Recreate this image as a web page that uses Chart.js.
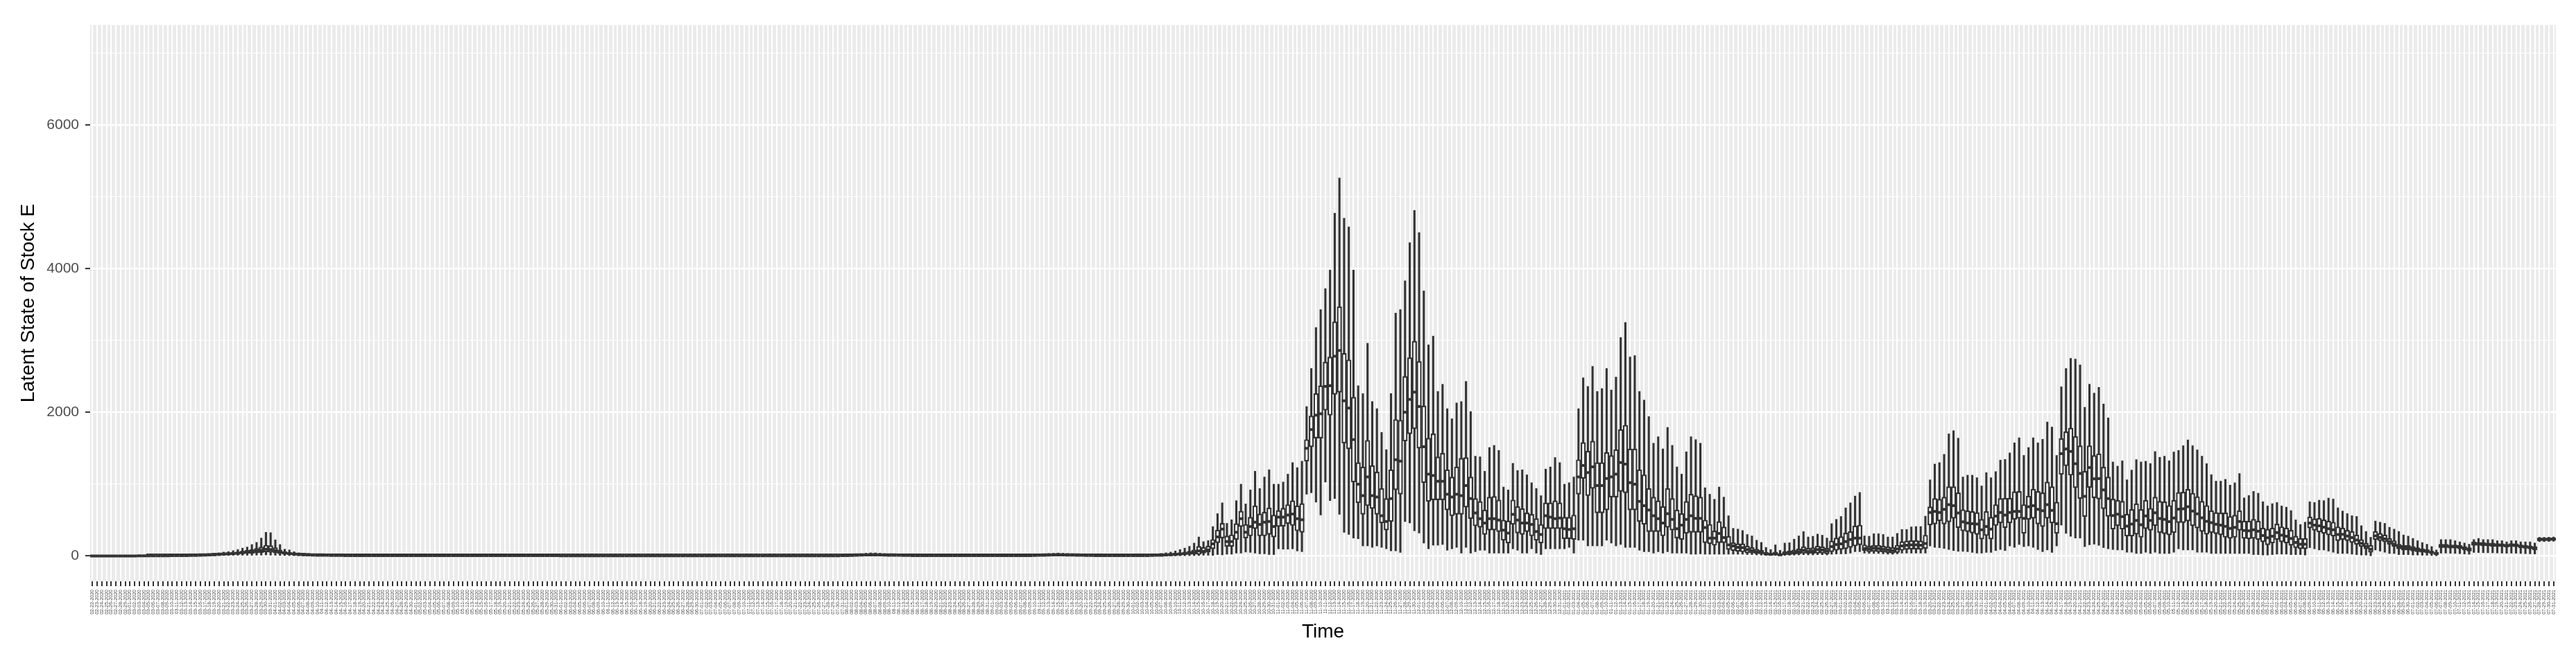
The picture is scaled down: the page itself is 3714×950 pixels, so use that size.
<!DOCTYPE html>
<html>
<head>
<meta charset="utf-8">
<script src="https://cdn.jsdelivr.net/npm/chart.js@4.4.1/dist/chart.umd.min.js"></script>
<style>
html,body{margin:0;padding:0;background:#ffffff;}
canvas{display:block;}
</style>
</head>
<body>
<canvas id="c" width="3714" height="950"></canvas>
<script>
// ---- categories: one per day, 02-22-2020 ... 07-31-2021 ----
const firstDayUTC = Date.UTC(2020, 1, 22);
const dayCount = 526;
const timeLabels = [];
for (let k = 0; k < dayCount; k++) {
  const d = new Date(firstDayUTC + k * 86400000);
  const mm = String(d.getUTCMonth() + 1).padStart(2, '0');
  const dd = String(d.getUTCDate()).padStart(2, '0');
  timeLabels.push(mm + '-' + dd + '-' + d.getUTCFullYear());
}

// ---- y axis ----
const yMin = -352;
const yMax = 7390;
const yTickValues = [0, 1000, 2000, 3000, 4000, 5000, 6000, 7000];
const yTickLabels = ['0', '', '2000', '', '4000', '', '6000', ''];

// ---- boxplot statistics (lower whisker, Q1, median, Q3, upper whisker) ----
const whiskerLow = [
0,0,0,0,0,0,0,0,0,0,0,0,0,0,0,0,0,0,0,0,0,0,0,0,
3,4,5,6,7,8,9,10,10,10,10,12,12,15,12,10,8,6,5,4,3,3,2,2,2,
1,1,1,1,1,1,0,
0,0,0,0,0,0,0,0,0,0, 0,0,0,0,0,0,0,0,0,0, 0,0,0,0,0,0,0,0,0,0, 0,0,0,0,0,0,0,0,0,0, 0,0,0,0,
0,0,0,0,0,0,0,0,0,0, 0,0,0,0,0,0,0,0,0,0, 0,0,0,0,0,0,0,0,0,0, 0,0,0,0,0,0,0,0,0,0, 0,0,0,0,0,0,0,0,0,0, 0,0,0,0,0,0,0,0,0,0,
0,0,1,1,1,1,2,2,1,1,1,1,1,1,1,0,0,0,0,0,0,
0,0,0,0,0,0,0,0,0,0,0,0,0,0,0,0,0,0,0,
0,0,1,1,1,1,2,1,1,1,1,1,1,0,0,0,
0,0,0,0,0,0,0,0,0,
0,0,1,1,1,2,2,3,3,4,5,
6,10,10,8,20,15,25,25,40,40,55,50,40,30,30,20,20,100,95,95,100,70,60,
860,880,750,570,1030,770,800,580,330,300,
250,240,140,140,120,140,120,100,70,70,
50,480,460,350,320,180,100,150,150,160,
80,100,120,40,120,40,60,80,80,40,
40,40,40,40,100,80,40,40,100,40,
20,100,100,100,100,100,120,40,220,220,
140,140,140,140,220,180,140,160,120,120,
120,80,60,60,40,60,40,
60,40,40,40,40,25,25,30,25,25,
25,25,25,25,25,25,25,20,20,15,
12,8,6,8,5,8,10,12,15,18,
15,15,18,18,15,25,28,30,30,40,
60,60,40,35,35,35,30,25,25,30,
40,40,40,40,40,40,140,120,115,105,
90,75,65,65,60,50,40,40,50,50,
75,90,75,140,120,160,130,140,120,90,
60,85,50,140,430,315,275,250,
250,130,155,165,148,116,100,90,84,84,
52,52,35,35,52,35,52,35,35,35,
52,100,84,84,84,52,52,52,35,35,
35,35,35,35,35,35,35,19,19,13,
13,19,26,26,26,19,19,19,13,116,
100,84,84,68,52,35,35,35,26,19,
13,13,3,84,68,52,35,35,19,19,
19,13,13,10,10,6,3,40,40,38,
36,32,28,24,50,48,46,45,44,42,
40,38,40,38,35,32,30,28,200,200,
202,205
];

const boxQ1 = [
0,0,0,0,0,0,0,0,0,0,0,0,1,1,1,1,2,2,2,3,3,4,5,6,
8,10,12,14,17,20,22,26,30,34,38,42,48,55,52,42,32,25,20,16,13,11,9,8,7,
6,5,5,4,4,3,3,
2,2,2,2,2,2,2,2,2,2, 2,2,2,2,2,2,2,2,2,2, 2,2,2,2,2,2,2,2,2,2, 2,2,2,2,2,2,2,2,2,2, 2,2,2,2,
1,1,1,1,1,1,1,1,1,1, 1,1,1,1,1,1,1,1,1,1, 1,1,1,1,1,1,1,1,1,1, 1,1,1,1,1,1,1,1,1,1, 1,1,1,1,1,1,1,1,1,1, 1,1,1,1,1,1,1,1,1,1,
3,4,5,6,7,8,9,9,8,7,7,6,5,5,4,4,4,3,3,2,2,
2,2,2,2,2,2,2,2,2,2,2,2,2,2,2,2,2,2,2,
4,4,5,7,8,8,9,8,8,7,6,5,5,4,4,4,
3,3,3,3,3,3,3,4,4,
3,4,5,6,8,10,12,15,18,22,25,
22,40,55,100,185,250,135,135,230,410,250,280,380,280,280,300,265,410,415,450,425,350,330,
1320,1520,1640,1640,2030,1960,2250,2280,1570,1490,
1030,740,580,700,660,580,460,360,480,920,
860,1600,1700,1770,1500,1020,760,780,780,780,
640,560,580,580,680,520,420,400,300,360,
360,340,220,180,440,320,300,340,280,220,
180,380,380,380,380,240,240,230,860,1080,
840,940,600,600,640,820,820,900,880,640,
640,480,440,340,340,340,280,
400,360,250,230,315,330,330,330,185,170,
150,185,185,90,75,65,58,42,42,32,
30,15,12,15,8,15,20,25,30,40,
35,35,40,40,30,60,80,90,100,120,
140,155,75,60,65,60,55,45,40,50,
80,90,95,95,90,105,430,445,490,445,
475,525,395,350,340,320,300,235,285,235,
425,460,395,460,510,525,315,510,525,445,
410,525,460,315,1135,1255,1125,950,
800,550,955,809,793,658,551,374,422,374,
277,277,303,261,380,358,422,326,310,293,
326,464,464,487,422,390,342,303,326,310,
293,261,245,261,358,245,239,245,229,197,
155,181,229,197,181,148,116,100,100,390,
358,335,316,293,277,213,229,213,187,164,
132,100,52,229,213,197,164,132,100,84,
84,68,58,52,45,35,19,116,116,110,
110,100,84,68,148,148,142,142,135,132,
132,123,132,129,116,110,100,84,213,213,
213,216
];

const boxMedian = [
1,1,1,1,1,1,1,1,1,1,2,2,2,2,3,3,3,4,4,5,6,7,8,10,
12,15,18,22,26,30,35,40,48,55,62,70,80,95,90,72,55,42,34,27,22,18,15,13,11,
10,9,8,7,7,6,5,
5,5,5,4,4,4,4,4,4,4, 4,4,4,4,4,4,4,4,4,4, 4,4,4,4,4,4,4,4,4,4, 4,4,4,4,4,4,4,4,4,4, 4,4,4,4,
3,3,3,3,3,3,3,3,3,3, 3,3,3,3,3,3,3,3,3,3, 3,3,3,3,3,3,3,3,3,3, 3,3,3,3,3,3,3,3,3,3, 3,3,3,3,3,3,3,3,3,3, 3,3,3,3,3,3,3,3,3,3,
5,6,8,10,12,14,15,15,14,12,11,10,9,8,7,6,6,5,5,4,4,
4,4,4,4,4,4,4,4,4,4,4,4,4,4,4,4,4,4,4,
6,7,9,11,13,14,15,14,13,12,10,9,8,7,6,6,
5,5,5,5,5,5,5,6,6,
6,7,9,11,14,18,22,28,34,42,50,
70,65,85,170,265,375,200,200,330,520,330,410,470,440,470,480,410,540,540,570,585,520,505,
1500,1760,1960,1980,2360,2370,2780,2860,2160,2060,
1620,1000,840,1100,840,820,560,480,800,1340,
1320,2000,2180,2280,2080,1520,1140,1120,1040,1040,
860,820,860,840,980,800,600,520,460,520,
520,500,360,320,580,500,460,460,440,340,
300,560,540,520,530,380,370,380,1100,1260,
1160,1240,980,980,1080,1100,1140,1300,1280,1020,
1000,760,700,640,560,520,460,
590,510,380,430,510,560,525,525,395,250,
250,315,255,155,140,120,115,90,74,58,
50,30,25,30,18,35,40,50,60,80,
65,70,90,85,70,130,160,170,200,230,
250,250,105,100,110,105,95,85,75,100,
140,150,155,155,150,175,605,620,605,650,
715,700,600,475,460,450,445,365,410,375,
555,605,570,605,620,620,525,685,700,650,
630,715,635,450,1425,1490,1455,1285,
1150,830,1230,1075,1076,919,798,563,582,548,
415,444,495,435,559,496,601,522,510,477,
529,653,656,686,625,586,531,483,464,443,
431,414,383,399,481,354,351,364,345,284,
254,275,326,291,275,243,188,165,165,460,
430,421,400,380,364,300,301,278,257,222,
176,136,95,280,259,240,200,168,129,113,
113,97,84,74,65,50,34,138,138,130,
130,122,106,90,170,167,164,160,156,151,
150,141,151,148,134,127,119,106,232,232,
235,238
];

const boxQ3 = [
2,2,2,2,2,2,2,2,2,3,3,3,4,4,5,5,6,6,7,8,9,10,12,14,
16,20,25,30,36,42,50,58,68,80,92,105,125,150,145,115,85,62,50,40,32,27,22,19,16,
14,13,12,11,10,9,8,
8,7,7,7,7,6,6,6,6,6, 6,6,6,6,6,6,6,6,6,6, 6,6,6,6,6,6,6,6,6,6, 6,6,6,6,6,6,6,6,6,6, 6,6,6,6,
5,5,5,5,5,5,5,5,5,5, 5,5,5,5,5,5,5,5,5,5, 5,5,5,5,5,5,5,5,5,5, 5,5,5,5,5,5,5,5,5,5, 5,5,5,5,5,5,5,5,5,5, 5,5,5,5,5,5,5,5,5,5,
8,9,12,15,18,21,23,23,21,18,17,15,14,12,11,9,9,8,8,6,6,
6,6,6,6,6,6,6,6,6,6,6,6,6,6,6,6,6,6,6,
9,11,14,17,20,21,23,21,20,18,15,14,12,11,9,9,
8,8,8,8,8,8,8,9,9,
10,12,15,18,22,28,35,45,55,68,85,
135,120,140,230,360,455,280,295,450,625,440,540,700,585,610,670,570,635,665,715,770,700,730,
1620,1950,2260,2370,2700,2770,3260,3470,2820,2730,
2210,1300,1240,1610,1260,1170,940,800,1200,1900,
1890,2500,2760,2990,2710,2090,1640,1700,1380,1430,
1200,1100,1240,1360,1370,1100,800,760,640,820,
830,780,500,490,780,690,660,600,580,520,
440,740,740,770,740,540,540,570,1340,1580,
1460,1600,1300,1300,1440,1400,1480,1760,1820,1490,
1490,1200,1130,940,820,770,690,
940,800,640,590,760,860,840,820,500,440,
350,480,405,275,185,170,170,140,120,96,
80,50,40,55,35,60,70,85,100,130,
110,115,140,130,110,210,250,270,320,340,
420,430,155,140,150,150,140,130,120,150,
200,210,215,215,210,290,685,800,790,820,
965,965,880,645,630,620,605,510,620,540,
715,800,805,805,895,900,715,835,930,900,
880,1030,965,750,1635,1730,1780,1665,
1535,1180,1535,1400,1422,1238,1100,793,777,761,
584,648,729,648,777,664,819,761,755,703,
777,884,890,929,874,826,761,703,632,606,
600,600,551,568,632,487,487,510,487,390,
374,390,445,406,390,358,277,245,245,545,
519,526,503,487,471,406,390,358,342,293,
229,181,148,342,316,293,245,213,164,148,
148,132,116,100,90,68,52,164,164,155,
155,148,132,116,197,190,190,181,181,174,
171,164,174,171,155,148,142,132,250,250,
250,252
];

const whiskerHigh = [
4,4,4,4,4,4,4,4,5,5,6,6,7,8,9,10,11,12,13,15,17,19,21,23,
25,30,38,45,55,62,75,90,110,125,160,190,250,330,325,225,160,95,85,60,45,40,34,28,24,
21,19,17,15,14,13,12,
11,11,11,10,10,10,10,10,10,10, 10,10,10,10,10,10,10,10,10,10, 10,10,10,10,10,10,10,10,10,10, 10,10,10,10,10,10,10,10,10,10, 10,10,10,10,
9,9,8,8,8,8,8,8,8,8, 8,8,8,8,8,8,8,8,8,8, 8,8,8,8,8,8,8,8,8,8, 8,8,8,8,8,8,8,8,8,8, 8,8,8,8,8,8,8,8,8,8, 8,8,8,8,8,8,8,8,8,8,
14,16,22,28,34,40,44,44,40,34,31,28,25,22,19,16,15,13,13,10,10,
10,10,10,10,10,10,10,10,10,10,10,10,10,10,10,10,10,10,10,
16,19,25,30,36,40,42,40,36,33,28,25,22,19,16,16,
13,13,13,13,13,13,14,15,16,
18,22,28,35,45,55,70,90,110,135,180,
265,200,215,410,590,740,455,505,770,1000,725,920,1180,940,1100,1200,1000,1000,1030,1140,1300,1230,1320,
2080,2610,3180,3430,3720,3980,4770,5260,4700,4580,
3980,2370,2260,2960,2150,2050,1720,1480,2260,3380,
3430,3830,4360,4810,4500,3690,2940,3060,2290,2390,
2050,1910,2130,2150,2430,2010,1390,1380,1180,1510,
1540,1470,960,920,1290,1190,1200,1130,1020,940,
840,1210,1240,1370,1300,1000,1020,1100,2050,2480,
2360,2640,2290,2330,2610,2310,2490,3040,3250,2770,
2790,2290,2170,1940,1570,1660,1490,
1790,1540,1240,1140,1450,1660,1620,1570,950,860,
790,960,820,560,385,375,355,300,280,220,
190,120,90,155,80,180,185,235,280,340,
265,275,305,290,250,450,510,550,670,740,
835,885,280,275,310,310,300,265,265,315,
370,370,405,410,410,555,1060,1280,1300,1415,
1700,1745,1640,1100,1125,1125,1090,975,1160,1090,
1175,1335,1345,1435,1575,1645,1400,1510,1645,1575,
1625,1865,1795,1400,2355,2610,2750,2740,
2660,2070,2390,2267,2348,2116,1922,1309,1251,1325,
1061,1196,1341,1309,1319,1287,1454,1374,1390,1325,
1448,1470,1535,1616,1535,1477,1390,1287,1132,1042,
1042,1067,987,1019,1148,809,842,900,874,755,
697,729,745,697,680,632,503,439,471,755,
745,777,771,806,793,671,626,590,561,551,
422,342,261,487,471,455,400,374,342,293,
277,245,213,187,164,132,84,229,229,229,
213,197,181,164,229,245,229,229,229,213,
213,197,213,213,197,197,197,181,260,260,
262,265
];

// ---- datasets built from the arrays ----
const whiskerRanges = whiskerLow.map((v, i) => [v, whiskerHigh[i]]);
const boxRanges = boxQ1.map((v, i) => [v, boxQ3[i]]);

const FONT = "'Liberation Sans', Arial, Helvetica, sans-serif";
const INK = '#333333';

const panelBackground = {
  id: 'panelBackground',
  beforeDraw(chart) {
    const a = chart.chartArea;
    const ctx = chart.ctx;
    ctx.save();
    ctx.fillStyle = '#EBEBEB';
    ctx.fillRect(a.left, a.top, a.right - a.left, a.bottom - a.top);
    ctx.restore();
  }
};

new Chart(document.getElementById('c'), {
  type: 'bar',
  data: {
    labels: timeLabels,
    datasets: [
      {
        type: 'bar',
        data: whiskerRanges,
        backgroundColor: INK,
        borderWidth: 0,
        barThickness: 2.4,
        grouped: false,
        order: 3
      },
      {
        type: 'bar',
        data: boxRanges,
        backgroundColor: '#FFFFFF',
        borderColor: INK,
        borderWidth: 2.2,
        borderSkipped: false,
        barThickness: 6.6,
        minBarLength: 3,
        grouped: false,
        order: 2
      },
      {
        type: 'line',
        data: boxMedian,
        showLine: false,
        pointStyle: 'line',
        pointRadius: 3.3,
        pointHoverRadius: 3.3,
        pointBorderWidth: 4,
        pointBorderColor: INK,
        pointBackgroundColor: INK,
        order: 1
      }
    ]
  },
  options: {
    responsive: false,
    animation: false,
    devicePixelRatio: 1,
    events: [],
    layout: { padding: { top: 36, right: 29, bottom: 0, left: 0 } },
    plugins: { legend: { display: false }, tooltip: { enabled: false } },
    scales: {
      x: {
        type: 'category',
        offset: true,
        border: { display: false },
        grid: {
          offset: false,
          color: '#FFFFFF',
          lineWidth: 2,
          drawTicks: true,
          tickColor: INK,
          tickLength: 7,
          tickWidth: 2
        },
        ticks: {
          autoSkip: false,
          maxRotation: 90,
          minRotation: 90,
          padding: 5,
          color: '#4D4D4D',
          font: { family: FONT, size: 7 }
        },
        title: {
          display: true,
          text: 'Time',
          color: '#000000',
          font: { family: FONT, size: 28 },
          padding: { top: 0, bottom: 22 }
        },
        afterFit(scale) { scale.height = 112; }
      },
      y: {
        type: 'linear',
        min: yMin,
        max: yMax,
        border: { display: false },
        afterBuildTicks(scale) { scale.ticks = yTickValues.map(v => ({ value: v })); },
        grid: {
          color: '#FFFFFF',
          lineWidth: ctx => (ctx.tick && ctx.tick.value % 2000 === 0) ? 2.2 : 1.1,
          drawTicks: true,
          tickColor: ctx => (ctx.tick && ctx.tick.value % 2000 === 0) ? INK : 'rgba(0,0,0,0)',
          tickLength: 7,
          tickWidth: 2
        },
        ticks: {
          color: '#4D4D4D',
          padding: 9,
          font: { family: FONT, size: 21 },
          callback: (value, index) => yTickLabels[index]
        },
        title: {
          display: true,
          text: 'Latent State of Stock E',
          color: '#000000',
          font: { family: FONT, size: 28 },
          padding: { top: 24, bottom: 0 }
        },
        afterFit(scale) { scale.width = 130; }
      }
    }
  },
  plugins: [panelBackground]
});
</script>
</body>
</html>
